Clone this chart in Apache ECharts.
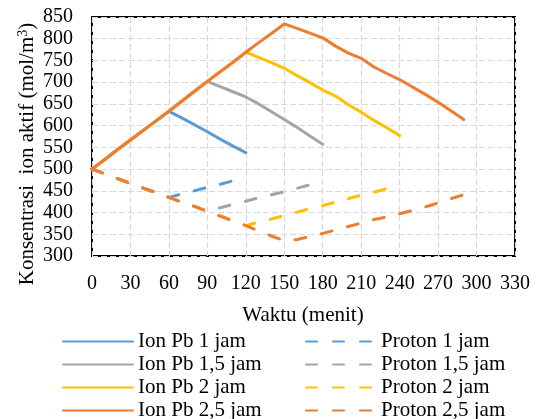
<!DOCTYPE html>
<html>
<head>
<meta charset="utf-8">
<script src="https://cdn.jsdelivr.net/npm/echarts@6/dist/echarts.min.js"></script>
<style>
  html, body { margin: 0; padding: 0; background: #fff; }
  #chart { width: 537px; height: 419px; }
</style>
</head>
<body>
<div id="chart"></div>
<script>
// Time axis ticks (minutes) and concentration ticks (mol/m3)
const xTicks = [0, 30, 60, 90, 120, 150, 180, 210, 240, 270, 300, 330];
const yTicks = [300, 350, 400, 450, 500, 550, 600, 650, 700, 750, 800, 850];

// Shared charging phase: Pb ion rises, proton falls (every 10 minutes)
const tCharge = [0, 10, 20, 30, 40, 50, 60, 70, 80, 90, 100, 110, 120, 130, 140, 150];
const ionCharge = [500, 522, 545, 567, 589, 611, 633, 656, 679, 702, 724, 746, 769, 791, 812, 834];
const protonCharge = [500, 489, 478, 467, 456, 446, 435, 424, 414, 403, 392, 381, 370, 358, 346, 335];

// Discharge phase after each charging duration
const tAfter1 = [70, 80, 90, 100, 110, 120];
const ionAfter1 = [618, 602, 586, 569, 553, 538];
const protonAfter1 = [443, 450, 458, 465, 473, 480];

const tAfter15 = [100, 110, 120, 130, 140, 150, 160, 170, 180];
const ionAfter15 = [690, 678, 666, 650, 632, 614, 596, 576, 557];
const protonAfter15 = [411, 419, 426, 434, 441, 448, 456, 464, 472];

const tAfter2 = [130, 140, 150, 160, 170, 180, 190, 200, 210, 220, 230, 240];
const ionAfter2 = [757, 745, 732, 715, 699, 682, 668, 648, 631, 612, 595, 577];
const protonAfter2 = [378, 385, 393, 401, 409, 416, 424, 432, 440, 447, 455, 462];

const tAfter25 = [160, 170, 180, 190, 200, 210, 220, 230, 240, 250, 260, 270, 280, 290];
const ionAfter25 = [824, 813, 802, 783, 767, 755, 735, 720, 706, 689, 672, 654, 634, 614];
const protonAfter25 = [338, 345, 352, 360, 368, 376, 384, 390, 397, 405, 413, 422, 432, 441];

const ionNames = ['Ion Pb 1 jam', 'Ion Pb 1,5 jam', 'Ion Pb 2 jam', 'Ion Pb 2,5 jam'];
const protonNames = ['Proton 1 jam', 'Proton 1,5 jam', 'Proton 2 jam', 'Proton 2,5 jam'];
const colors = ['#5B9BD5', '#A5A5A5', '#FFC000', '#ED7D31'];
const chargeEnd = [60, 90, 120, 150];

const FONT = '"Liberation Serif", "Times New Roman", serif';

// Join the charging points up to the switch time with the discharge points
function build(tc, vc, tEnd, ta, va) {
  const pts = [];
  for (let i = 0; i < tc.length; i++) {
    if (tc[i] <= tEnd) pts.push([tc[i], vc[i]]);
  }
  for (let i = 0; i < ta.length; i++) pts.push([ta[i], va[i]]);
  return pts;
}

const after = [
  [tAfter1, ionAfter1, protonAfter1],
  [tAfter15, ionAfter15, protonAfter15],
  [tAfter2, ionAfter2, protonAfter2],
  [tAfter25, ionAfter25, protonAfter25]
];

const series = [];
for (let k = 0; k < 4; k++) {
  series.push({
    name: ionNames[k], type: 'line', symbol: 'none', smooth: false,
    data: build(tCharge, ionCharge, chargeEnd[k], after[k][0], after[k][1]),
    lineStyle: { color: colors[k], width: 3, cap: 'round', join: 'round' },
    itemStyle: { color: colors[k] }, z: 3 + k
  });
  series.push({
    name: protonNames[k], type: 'line', symbol: 'none', smooth: false,
    data: build(tCharge, protonCharge, chargeEnd[k], after[k][0], after[k][2]),
    lineStyle: { color: colors[k], width: 3, type: [11, 16], cap: 'round', join: 'round' },
    itemStyle: { color: colors[k] }, z: 3 + k
  });
}

// One legend entry per slot: two columns, four rows
const rowTop = [330, 353, 376, 399];
const legends = [];
for (let k = 0; k < 4; k++) {
  [[ionNames[k], 62], [protonNames[k], 305]].forEach(function (entry) {
    legends.push({
      orient: 'horizontal', left: entry[1], top: rowTop[k], padding: 0,
      itemWidth: 70, itemHeight: 14, itemGap: 0,
      itemStyle: { opacity: 0 },
      textStyle: { fontFamily: FONT, fontSize: 21, color: '#000', lineHeight: 23 },
      data: [entry[0]]
    });
  });
}

const chart = echarts.init(document.getElementById('chart'), null, { renderer: 'canvas' });
chart.setOption({
  animation: false,
  backgroundColor: '#fff',
  grid: { left: 92, right: 22, top: 17, bottom: 163, show: true, borderColor: '#000', borderWidth: 2, backgroundColor: 'transparent' },
  xAxis: {
    type: 'value', min: xTicks[0], max: xTicks[xTicks.length - 1], interval: 30,
    axisLine: { show: false }, axisTick: { show: false },
    axisLabel: { margin: 18, fontFamily: FONT, fontSize: 20, color: '#000' },
    splitLine: { show: true, lineStyle: { color: '#D9D9D9', width: 1.2, type: [6, 3] } }
  },
  yAxis: {
    type: 'value', min: yTicks[0], max: yTicks[yTicks.length - 1], interval: 50,
    axisLine: { show: false }, axisTick: { show: false },
    axisLabel: { margin: 19, fontFamily: FONT, fontSize: 20, color: '#000' },
    splitLine: { show: true, lineStyle: { color: '#D9D9D9', width: 1.2, type: [6, 3] } }
  },
  legend: legends,
  graphic: [
    {
      type: 'text', x: 303, y: 315,
      style: { text: 'Waktu (menit)', fontFamily: FONT, fontSize: 21, fill: '#000', align: 'center', verticalAlign: 'middle' }
    },
    {
      type: 'text', x: 27, y: 154, rotation: Math.PI / 2,
      style: {
        text: '{a|Konsentrasi  ion aktif (mol/m}{s|3}{a|)}',
        align: 'center', verticalAlign: 'middle',
        rich: {
          a: { fontFamily: FONT, fontSize: 21, fill: '#000', color: '#000' },
          s: { fontFamily: FONT, fontSize: 14, fill: '#000', color: '#000', verticalAlign: 'top', padding: [0, 0, 8, 0] }
        }
      }
    }
  ],
  series: series
});
</script>
</body>
</html>
